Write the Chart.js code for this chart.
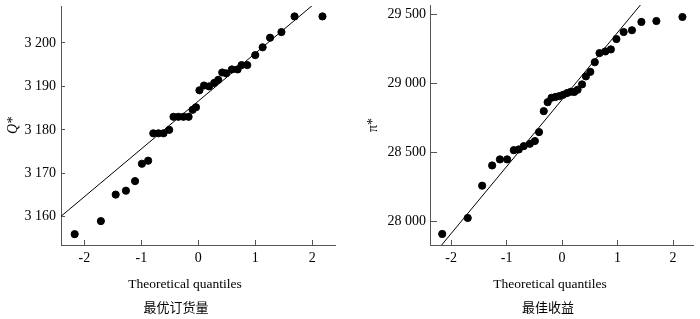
<!DOCTYPE html>
<html lang="zh">
<head>
    <meta charset="utf-8">
    <title>QQ plots</title>
    <style>
        body {
            margin: 0;
            padding: 0;
            background: #ffffff;
        }

        .panel {
            position: absolute;
            top: 0;
            width: 350px;
            height: 319px;
        }

        #panel-left { left: 0; }
        #panel-right { left: 350px; }
    </style>
</head>
<body>

<div class="panel" id="panel-left">
    <canvas id="qqLeft" width="350" height="319"></canvas>
</div>
<div class="panel" id="panel-right">
    <canvas id="qqRight" width="350" height="319"></canvas>
</div>

<script src="https://cdn.jsdelivr.net/npm/chart.js"></script>
<script>
    // left panel: optimal order quantity Q*
    const qLeft = [-2.17, -1.71, -1.45, -1.27, -1.11, -0.99, -0.88, -0.79, -0.70, -0.61, -0.51, -0.435,
        -0.35, -0.26, -0.17, -0.10, -0.04, 0.02, 0.10, 0.19, 0.28, 0.35, 0.42, 0.49, 0.59, 0.69,
        0.76, 0.86, 1.00, 1.13, 1.26, 1.46, 1.69, 2.18];
    const vLeft = [3156.0, 3159.0, 3165.1, 3166.0, 3168.2, 3172.2, 3172.9, 3179.2, 3179.2, 3179.2, 3180.0, 3183.0,
        3183.0, 3183.0, 3183.0, 3184.6, 3185.2, 3189.1, 3190.2, 3190.0, 3190.8, 3191.5, 3193.2, 3193.0, 3193.9, 3193.9,
        3194.9, 3194.9, 3197.2, 3199.0, 3201.2, 3202.5, 3206.1, 3206.1];
    const lineLeftX = [-2.41, 2.40];
    const lineLeftY = [3160.1, 3213.0];
    const yTicksLeft = [3160, 3170, 3180, 3190, 3200];

    // right panel: optimal profit pi*
    const qRight = [-2.16, -1.70, -1.44, -1.26, -1.12, -0.99, -0.87, -0.78, -0.69, -0.58, -0.49, -0.415,
        -0.33, -0.26, -0.19, -0.12, -0.05, 0.02, 0.09, 0.16, 0.22, 0.28, 0.36, 0.43, 0.51, 0.59,
        0.675, 0.78, 0.88, 0.98, 1.11, 1.26, 1.43, 1.70, 2.17];
    const vRight = [27906, 28022, 28256, 28403, 28447, 28447, 28514, 28519, 28543, 28560, 28580, 28645,
        28797, 28862, 28894, 28900, 28906, 28916, 28928, 28938, 28936, 28952, 28991, 29049, 29082, 29152,
        29218, 29230, 29245, 29320, 29371, 29384, 29444, 29451, 29480];
    const lineRightX = [-2.38, 2.36];
    const lineRightY = [27724, 30028];
    const yTicksRight = [28000, 28500, 29000, 29500];

    const xTicks = [-2, -1, 0, 1, 2];

    Chart.defaults.font.family = "'Liberation Serif', 'Times New Roman', serif";
    Chart.defaults.font.size = 14;
    Chart.defaults.color = '#000000';

    function spaced(v) {
        return String(v).replace(/\B(?=(\d{3})+(?!\d))/g, ' ');
    }

    function pairs(xs, ys) {
        return xs.map((x, i) => ({ x: x, y: ys[i] }));
    }

    // draws the x title and the chinese caption under each panel
    const captionPlugin = {
        id: 'captions',
        afterDraw(chart, args, opts) {
            const ctx = chart.ctx;
            ctx.save();
            ctx.fillStyle = '#000';
            ctx.textAlign = 'center';
            ctx.textBaseline = 'middle';
            ctx.font = "13.5px 'Liberation Serif', serif";
            ctx.fillText('Theoretical quantiles', opts.titleX, 284);
            ctx.font = "13px 'Noto Sans CJK SC', sans-serif";
            ctx.fillText(opts.caption, opts.captionX, 307);
            ctx.restore();
        }
    };

    function makeChart(id, cfg) {
        return new Chart(document.getElementById(id), {
            type: 'scatter',
            data: {
                datasets: [
                    {
                        data: pairs(cfg.qx, cfg.vy),
                        backgroundColor: '#000',
                        borderColor: '#000',
                        pointRadius: 3.6,
                        pointHoverRadius: 3.6
                    },
                    {
                        type: 'line',
                        data: pairs(cfg.lx, cfg.ly),
                        borderColor: '#000',
                        borderWidth: 1,
                        pointRadius: 0,
                        fill: false
                    }
                ]
            },
            options: {
                responsive: false,
                animation: false,
                layout: { padding: { top: cfg.top, right: cfg.right, left: 0, bottom: 0 } },
                plugins: {
                    legend: { display: false },
                    tooltip: { enabled: false },
                    captions: { titleX: cfg.titleX, caption: cfg.caption, captionX: cfg.captionX }
                },
                scales: {
                    x: {
                        type: 'linear',
                        min: cfg.xmin,
                        max: cfg.xmax,
                        afterBuildTicks: s => { s.ticks = xTicks.map(v => ({ value: v })); },
                        afterFit: s => {
                            s.height = 74;
                            s.paddingLeft = 0;
                            s.paddingRight = 0;
                        },
                        grid: { drawOnChartArea: false, tickLength: -5, tickColor: '#555' },
                        border: { color: '#555', width: 1 },
                        ticks: { padding: 10, callback: v => String(v) }
                    },
                    y: {
                        min: cfg.ymin,
                        max: cfg.ymax,
                        afterBuildTicks: s => { s.ticks = cfg.yTicks.map(v => ({ value: v })); },
                        afterFit: s => {
                            s.width = cfg.yWidth;
                            s.paddingTop = 0;
                            s.paddingBottom = 0;
                        },
                        grid: { drawOnChartArea: false, tickLength: cfg.yTick, tickColor: '#555' },
                        border: { color: '#555', width: 1 },
                        ticks: { padding: cfg.yPad, callback: v => spaced(v) },
                        title: {
                            display: true,
                            text: cfg.yTitle,
                            font: { size: 14, style: cfg.yStyle },
                            padding: { top: cfg.yTitlePad, bottom: 0 }
                        }
                    }
                }
            },
            plugins: [captionPlugin]
        });
    }

    makeChart('qqLeft', {
        qx: qLeft, vy: vLeft, lx: lineLeftX, ly: lineLeftY, yTicks: yTicksLeft,
        xmin: -2.41, xmax: 2.40, ymin: 3153.5, ymax: 3208.5,
        top: 6, right: 15, yWidth: 61, yTick: -4, yPad: 9,
        yTitle: 'Q*', yStyle: 'italic', yTitlePad: 5,
        titleX: 185, caption: '最优订货量', captionX: 176
    });

    makeChart('qqRight', {
        qx: qRight, vy: vRight, lx: lineRightX, ly: lineRightY, yTicks: yTicksRight,
        xmin: -2.38, xmax: 2.36, ymin: 27826, ymax: 29567,
        top: 5, right: 7, yWidth: 80, yTick: -7, yPad: 11,
        yTitle: 'π*', yStyle: 'normal', yTitlePad: 15,
        titleX: 200, caption: '最佳收益', captionX: 198
    });
</script>
</body>
</html>
